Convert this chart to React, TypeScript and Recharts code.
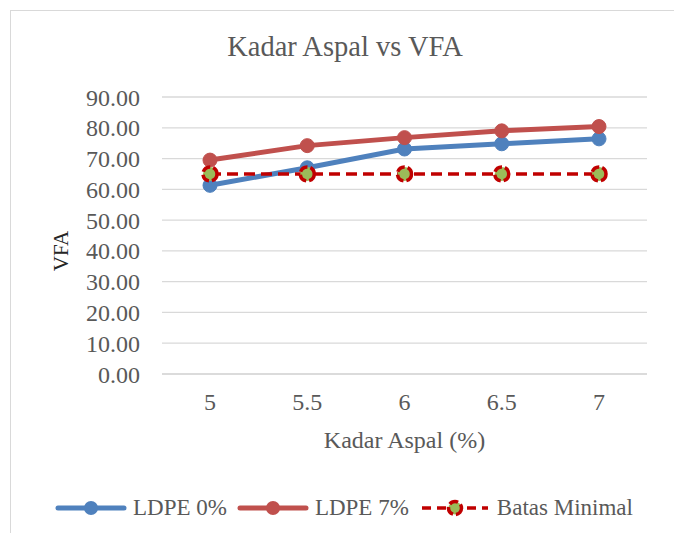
import { CartesianGrid, Line, LineChart, XAxis, YAxis } from "recharts";

const categories = ["5", "5.5", "6", "6.5", "7"];
const ldpe0 = [61.3, 67.0, 73.1, 74.8, 76.4];
const ldpe7 = [69.5, 74.2, 76.8, 79.0, 80.4];
const batasMinimal = [65, 65, 65, 65, 65];
const yTicks = [0, 10, 20, 30, 40, 50, 60, 70, 80, 90];

const FONT = '"Liberation Serif", "Times New Roman", serif';
const TEXT = "#595959";
const GRID = "#d9d9d9";

const data = categories.map((kadar, i) => ({
  kadar,
  ldpe0: ldpe0[i],
  ldpe7: ldpe7[i],
  batas: batasMinimal[i],
}));

const legendItems = [
  { name: "LDPE 0%", color: "#4f81bd", dashed: false },
  { name: "LDPE 7%", color: "#c0504d", dashed: false },
  { name: "Batas Minimal", color: "#c00000", dashed: true },
];

function BatasDot(props: any) {
  const { cx, cy } = props;
  if (cx == null || cy == null) return null;
  return (
    <circle
      cx={cx}
      cy={cy}
      r={7}
      fill="#9bbb59"
      stroke="#c00000"
      strokeWidth={3.5}
      strokeDasharray="9 3"
    />
  );
}

function LegendIcon({ color, dashed }: { color: string; dashed: boolean }) {
  return (
    <svg width={72} height={20} style={{ display: "block" }}>
      <line
        x1={3}
        x2={69}
        y1={10}
        y2={10}
        stroke={color}
        strokeWidth={dashed ? 3.5 : 5}
        strokeLinecap={dashed ? "butt" : "round"}
        strokeDasharray={dashed ? "9 6" : undefined}
      />
      {dashed ? (
        <circle cx={36} cy={10} r={6.5} fill="#9bbb59" stroke="#c00000" strokeWidth={3.5} strokeDasharray="9 3" />
      ) : (
        <circle cx={36} cy={10} r={7} fill={color} />
      )}
    </svg>
  );
}

export default function App() {
  return (
    <div style={{ margin: -8, width: 682, height: 541, position: "relative", background: "#fff", overflow: "hidden" }}>
      <div
        style={{
          position: "absolute",
          left: 10,
          top: 10,
          width: 665,
          height: 560,
          border: `1px solid ${GRID}`,
        }}
      />
      <div
        style={{
          position: "absolute",
          left: 0,
          width: 690,
          top: 30,
          textAlign: "center",
          fontFamily: FONT,
          fontSize: 28.5,
          color: TEXT,
          lineHeight: "34px",
        }}
      >
        Kadar Aspal vs VFA
      </div>
      <div style={{ position: "absolute", left: 0, top: 0 }}>
        <LineChart
          width={682}
          height={541}
          data={data}
          margin={{ top: 97, right: 35, left: 62, bottom: 87 }}
        >
          <CartesianGrid vertical={false} stroke={GRID} strokeWidth={1.3} />
          <XAxis
            dataKey="kadar"
            height={80}
            padding={{ left: 48, right: 48 }}
            axisLine={{ stroke: GRID, strokeWidth: 1.3 }}
            tickLine={false}
            tickSize={0}
            tickMargin={19}
            tick={{ fill: TEXT, fontSize: 24, fontFamily: FONT }}
            label={(p: any) => {
              const vb = p.viewBox;
              return (
                <text
                  x={vb.x + vb.width / 2}
                  y={448}
                  textAnchor="middle"
                  fill={TEXT}
                  fontSize={24}
                  fontFamily={FONT}
                >
                  Kadar Aspal (%)
                </text>
              );
            }}
          />
          <YAxis
            width={100}
            domain={[0, 90]}
            ticks={yTicks}
            interval={0}
            axisLine={false}
            tickLine={false}
            tickSize={0}
            tickMargin={22}
            tickFormatter={(v: number) => v.toFixed(2)}
            tick={{ fill: TEXT, fontSize: 24, fontFamily: FONT }}
            label={() => (
              <text
                x={0}
                y={0}
                transform="translate(68 251) rotate(-90)"
                textAnchor="middle"
                fill="#262626"
                fontSize={21}
                fontFamily={FONT}
              >
                VFA
              </text>
            )}
          />
          <Line
            dataKey="ldpe0"
            name="LDPE 0%"
            stroke="#4f81bd"
            strokeWidth={5}
            dot={{ r: 7, fill: "#4f81bd", stroke: "#4f81bd", strokeWidth: 1 }}
            isAnimationActive={false}
          />
          <Line
            dataKey="ldpe7"
            name="LDPE 7%"
            stroke="#c0504d"
            strokeWidth={5}
            dot={{ r: 7, fill: "#c0504d", stroke: "#c0504d", strokeWidth: 1 }}
            isAnimationActive={false}
          />
          <Line
            dataKey="batas"
            name="Batas Minimal"
            stroke="#c00000"
            strokeWidth={3.5}
            strokeDasharray="11 6"
            dot={<BatasDot />}
            isAnimationActive={false}
          />
        </LineChart>
      </div>
      <div
        style={{
          position: "absolute",
          left: 55,
          top: 493,
          display: "flex",
          alignItems: "center",
          fontFamily: FONT,
          fontSize: 23,
          color: TEXT,
        }}
      >
        {legendItems.map((item) => (
          <div key={item.name} style={{ display: "flex", alignItems: "center", marginRight: 10 }}>
            <LegendIcon color={item.color} dashed={item.dashed} />
            <span style={{ marginLeft: 6, lineHeight: "30px" }}>{item.name}</span>
          </div>
        ))}
      </div>
    </div>
  );
}
